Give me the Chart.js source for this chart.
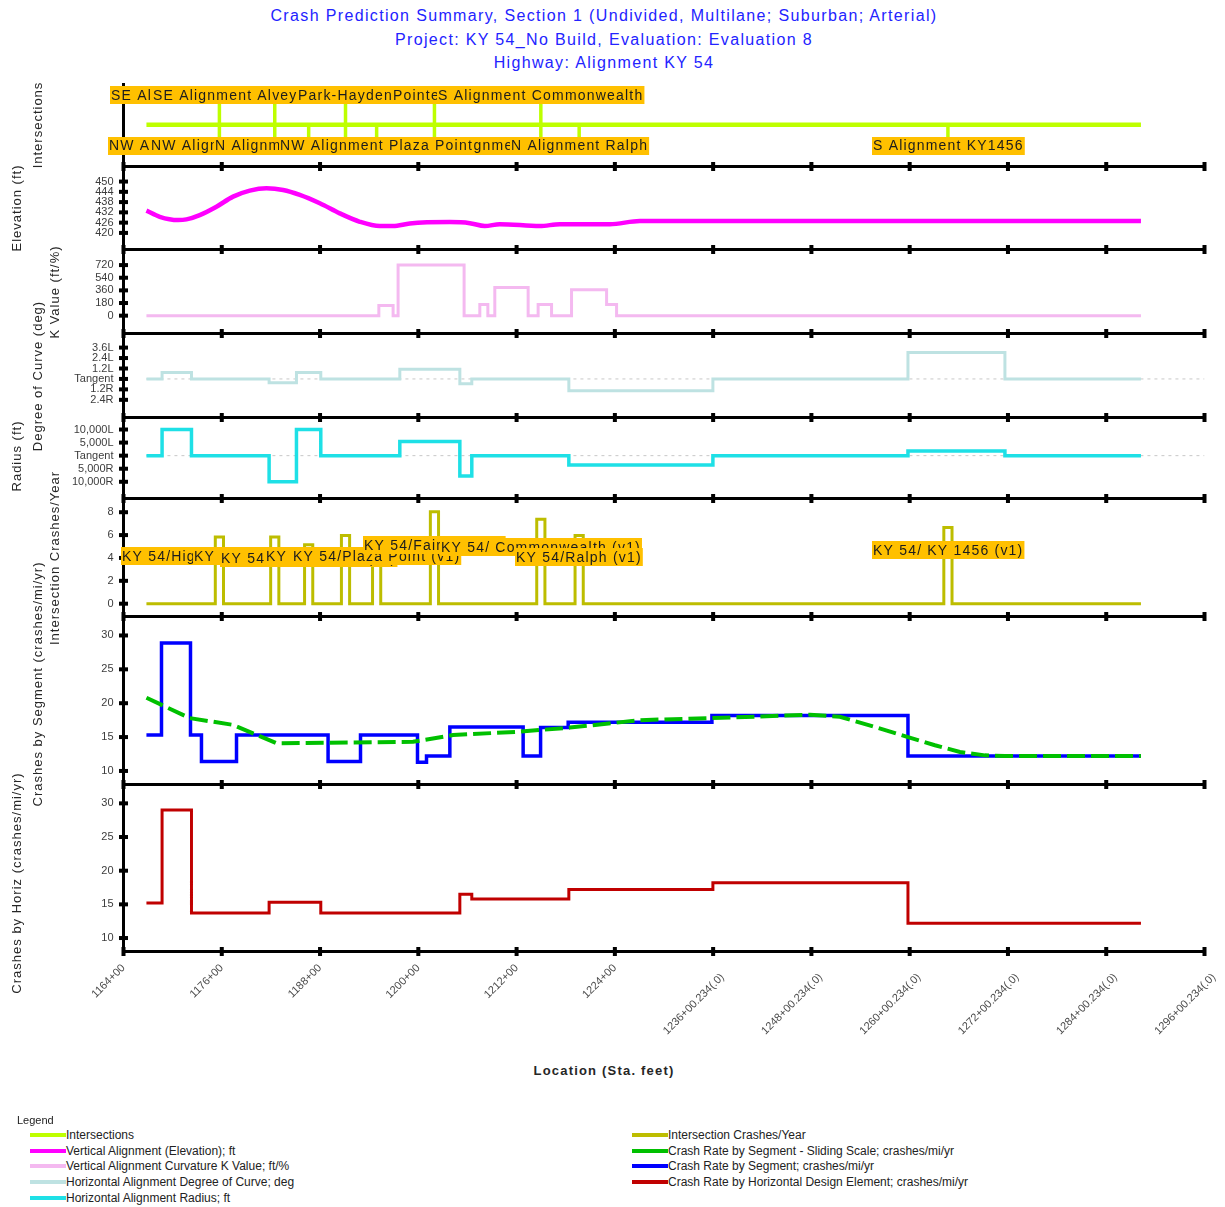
<!DOCTYPE html>
<html>
<head>
<meta charset="utf-8">
<title>Crash Prediction Summary</title>
<script src="https://cdn.jsdelivr.net/npm/chart.js@4.4.1/dist/chart.umd.min.js"></script>
<style>
  html,body{margin:0;padding:0;background:#fff;}
  #page{position:relative;width:1225px;height:1207px;overflow:hidden;font-family:"Liberation Sans",Arial,sans-serif;}
  .title{position:absolute;left:0;width:1208px;text-align:center;color:#2323ff;font-size:16px;letter-spacing:1.35px;line-height:20px;white-space:nowrap;}
  canvas{position:absolute;left:0;}
  .ytitle{position:absolute;white-space:nowrap;font-size:13px;letter-spacing:1px;color:#262626;line-height:14px;transform:translate(-50%,-50%) rotate(-90deg);}
  .xtitle{position:absolute;left:0;width:1208px;text-align:center;font-size:13px;font-weight:bold;letter-spacing:1.2px;color:#262626;top:1063px;}
  .lg{position:absolute;font-size:12px;color:#222;white-space:nowrap;line-height:12px;}
  .sw{position:absolute;height:4px;}
</style>
</head>
<body>
<div id="page">
  <div class="title" style="top:6px">Crash Prediction Summary, Section 1 (Undivided, Multilane; Suburban; Arterial)</div>
  <div class="title" style="top:30px">Project: KY 54_No Build, Evaluation: Evaluation 8</div>
  <div class="title" style="top:53px">Highway: Alignment KY 54</div>
  <div class="xtitle">Location (Sta. feet)</div>
</div>
<script>
// ---------------- DATA ----------------
const tickStations = [116400,117600,118800,120000,121200,122400,123600,124800,126000,127200,128400,129600];
const tickLabels = ["1164+00","1176+00","1188+00","1200+00","1212+00","1224+00",
  "1236+00.234(.0)","1248+00.234(.0)","1260+00.234(.0)","1272+00.234(.0)","1284+00.234(.0)","1296+00.234(.0)"];
const stationStart = 116680;
const stationEnd = 128824;

// Intersections
const intStations = [117571,118247,118661,119111,119491,120197,121496,121964,126467];
const intHasTopLeg = [true,true,false,true,false,true,true,false,false];
const intTopNames = ["SE Alignment Highland Ridge","SE Alignment Alvey Park Drive S","","Park-Hayden","","Pointe Way","S Alignment Commonwealth","",""];
const intBottomNames = ["NW Alignment Highland Ridge","NW Alignment Alvey Park Drive S","N Alignment Millbrook Rd","NW Park-Hayden",
  "NW Alignment Plaza Point","NW Alignment Fairway","N Alignment Commonwealth","N Alignment Ralph","S Alignment KY1456"];
const intCrashNames = ["KY 54/Highland Ridge (v1)","KY 54/Alvey Park (v1)","KY 54/Millbrook Rd (v1)","KY 54/Hayden St (v1)",
  "KY 54/Plaza Point (v1)","KY 54/Fairway (v1)","KY 54/ Commonwealth (v1)","KY 54/Ralph (v1)","KY 54/ KY 1456 (v1)"];
const intCrashes = [5.83,5.83,5.16,5.97,4.2,8.05,7.39,5.97,6.66];

// Vertical alignment - elevation (ft)
const elevStations = [116680,116843,117066,117169,117331,117535,117738,117942,118146,118349,118553,118797,119041,119286,119530,119692,119896,120385,120629,120812,120995,121484,121728,122339,122705,128824];
const elevValues   = [433.0,429.4,427.5,427.9,430.4,435.3,441.2,444.7,446.1,445.1,442.2,437.3,431.4,426.5,424.0,424.0,425.5,426.3,425.7,424.0,425.1,424.0,425.1,425.1,426.9,426.9];

// Vertical curvature K value (ft/%), step segments
const kStations = [116680,119518,119692,119753,120559,120751,120849,120934,121341,121463,121627,121871,122299,122421,128824];
const kValues   = [0,145,0,720,0,160,0,400,0,160,0,370,160,0];

// Horizontal alignment, step segments
const hStations = [116680,116871,117230,118178,118512,118809,119774,120507,120653,121838,123597,125979,127163,128824];
const degreeValues = [0,0.75,0,-0.45,0.75,0,1.1,-0.55,0,-1.35,0,3.05,0];
const radiusValues = [0,10000,0,-10000,10000,0,5400,-7800,0,-3600,0,1800,0];

// Crash rate by segment (step)
const segStations = [116680,116864,117218,117352,117780,118898,119294,119990,120100,120385,121280,121493,121830,123585,125979,128824];
const segCrashValues = [15.3,28.9,15.3,11.4,15.3,11.4,15.3,11.3,12.2,16.5,12.2,16.4,17.2,18.2,12.2];

// Crash rate by segment - sliding scale
const slideStations = [116680,117209,117738,118268,119936,120425,121240,121850,122705,123585,124782,125148,125576,125979,126308,126614,126919,127163,128824];
const slideValues   = [20.8,17.8,16.8,14.1,14.3,15.3,15.8,16.4,17.5,17.8,18.3,18.0,16.5,15.0,13.8,12.8,12.3,12.2,12.2];

// Crash rate by horizontal design element (step)
const horizCrashStations = [116680,116871,117230,118178,118809,120507,120653,121838,123597,125979,128824];
const horizCrashValues   = [15.2,29.0,13.7,15.3,13.7,16.5,15.8,17.2,18.2,12.2];

// Axis ticks
const elevTicks = [420,426,432,438,444,450];
const kTicks = [0,180,360,540,720];
const degreeTicks = [-2.4,-1.2,0,1.2,2.4,3.6];
const degreeTickLabels = ["2.4R","1.2R","Tangent","1.2L","2.4L","3.6L"];
const radiusTicks = [-10000,-5000,0,5000,10000];
const radiusTickLabels = ["10,000R","5,000R","Tangent","5,000L","10,000L"];
const crashYearTicks = [0,2,4,6,8];
const crashRateTicks = [10,15,20,25,30];

// ---------------- STYLE / LAYOUT ----------------
Chart.defaults.font.family = "'Liberation Sans', Arial, sans-serif";
const PAGE_W = 1225, PLOT_LEFT = 123.5, PLOT_RIGHT = 1204.5;
const X_MIN = 116400, X_MAX = 129600;
const COLORS = {
  intersections:'#BEFF00', elevation:'#FF00FF', kvalue:'#F4B9F0', degree:'#BEE2E2', radius:'#1EE0E6',
  crashYear:'#BDBD00', sliding:'#00C000', segment:'#0000FF', horiz:'#C00000', tangent:'#C8C8C8'
};
const TAG_BG = '#FFC000', TAG_TEXT = '#1c1c1c', TAG_FONT = "14px 'Liberation Sans', Arial, sans-serif";
const LINE_LEVEL = 0.5, TOP_TAG_LEVEL = 0.856, BOTTOM_TAG_LEVEL = 0.25;
const BOTTOM_TAG_ORDER = [5,6,0,1,2,3,4,7,8];
const crashTagLevels = [4.16,4.16,3.96,4.16,4.16,5.09,4.92,4.09,4.7];
const SPIKE_HALF = 50;

function stepPoints(st, vals){ const p=[]; vals.forEach((v,i)=>{ p.push({x:st[i],y:v}); p.push({x:st[i+1],y:v}); }); return p; }
function linePoints(st, vals){ return st.map((s,i)=>({x:s,y:vals[i]})); }
function spikePoints(st, vals){ const p=[{x:stationStart,y:0}]; st.forEach((s,i)=>{ p.push({x:s-SPIKE_HALF,y:0},{x:s-SPIKE_HALF,y:vals[i]},{x:s+SPIKE_HALF,y:vals[i]},{x:s+SPIKE_HALF,y:0}); }); p.push({x:stationEnd,y:0}); return p; }
function flatPoints(a,b,v){ return [{x:a,y:v},{x:b,y:v}]; }

function ds(data, color, width, extra){ return Object.assign({data, borderColor:color, borderWidth:width, pointRadius:0, fill:false, tension:0, borderJoinStyle:'miter', borderCapStyle:'butt'}, extra||{}); }

const framePlugin = {
  id:'frame',
  afterDraw(chart){
    const o = chart.options.plugins.frame || {};
    const {ctx, chartArea:a} = chart; const x = chart.scales.x, y = chart.scales.y;
    ctx.save(); ctx.fillStyle = '#000';
    ctx.fillRect(a.left-1.5, a.top, 3, a.bottom-a.top);
    ctx.fillRect(a.left-1.5, a.bottom-1.5, a.right-a.left+3, 3);
    tickStations.forEach(s=>{ const px = x.getPixelForValue(s); ctx.fillRect(px-2, a.bottom-4.5, 4, 9); });
    (o.yTicks||[]).forEach(v=>{ const py = y.getPixelForValue(v); ctx.fillRect(a.left-4.5, py-2, 9, 4); });
    ctx.restore();
  }
};

function drawTag(ctx, text, cx, cy){
  const w = ctx.measureText(text).width;
  const x0 = Math.round(cx - w/2);
  ctx.fillStyle = TAG_BG; ctx.fillRect(x0-1, Math.round(cy-9), w+2, 18);
  ctx.fillStyle = TAG_TEXT; ctx.fillText(text, x0, cy+1);
}

const intersectionPlugin = {
  id:'intTags',
  afterDraw(chart){
    const {ctx} = chart; const x = chart.scales.x, y = chart.scales.y;
    ctx.save();
    ctx.strokeStyle = COLORS.intersections; ctx.lineWidth = 3.5;
    intStations.forEach((s,i)=>{ const px = x.getPixelForValue(s);
      ctx.beginPath(); ctx.moveTo(px, y.getPixelForValue(intHasTopLeg[i]?TOP_TAG_LEVEL:LINE_LEVEL)); ctx.lineTo(px, y.getPixelForValue(BOTTOM_TAG_LEVEL)); ctx.stroke(); });
    ctx.font = TAG_FONT; ctx.letterSpacing = '1.2px'; ctx.textBaseline = 'middle'; ctx.textAlign = 'left';
    intStations.forEach((s,i)=>{ if(intTopNames[i]) drawTag(ctx, intTopNames[i], x.getPixelForValue(s), y.getPixelForValue(TOP_TAG_LEVEL)); });
    BOTTOM_TAG_ORDER.forEach(i=>{ drawTag(ctx, intBottomNames[i], x.getPixelForValue(intStations[i]), y.getPixelForValue(BOTTOM_TAG_LEVEL)); });
    ctx.restore();
  }
};

const crashTagPlugin = {
  id:'crashTags',
  afterDraw(chart){
    const {ctx} = chart; const x = chart.scales.x, y = chart.scales.y;
    ctx.save(); ctx.font = TAG_FONT; ctx.letterSpacing = '1.2px'; ctx.textBaseline = 'middle'; ctx.textAlign = 'left';
    intStations.forEach((s,i)=>{ drawTag(ctx, intCrashNames[i], x.getPixelForValue(s), y.getPixelForValue(crashTagLevels[i])); });
    ctx.restore();
  }
};

function yScale(min, max, ticks, labels, show){
  return {
    type:'linear', position:'left', min, max,
    grid:{display:false, drawTicks:false}, border:{display:false},
    afterBuildTicks: s => { s.ticks = ticks.map(v=>({value:v})); },
    ticks:{ display: show, autoSkip:false, padding:10, color:'#3c3c3c', font:{size:11},
      callback: v => { const i = ticks.indexOf(v); return i>=0 ? (labels? labels[i] : String(v)) : ''; } },
    afterFit: s => { s.width = PLOT_LEFT; s.paddingTop = 0; s.paddingBottom = 0; }
  };
}

function makePanel(edgeTop, edgeBottom, datasets, yOpts, yTicks, extraPlugins, isLast){
  const canvasTop = Math.floor(edgeTop) - 10;
  const padTop = edgeTop - canvasTop;
  const canvasBottom = isLast ? 1100 : Math.ceil(edgeBottom) + 10;
  const padBottom = isLast ? 0 : canvasBottom - edgeBottom;
  const xAxisH = isLast ? canvasBottom - edgeBottom : 0;
  const c = document.createElement('canvas');
  const h = canvasBottom - canvasTop;
  c.width = PAGE_W; c.height = h; c.style.top = canvasTop+'px'; c.style.width = PAGE_W+'px'; c.style.height = h+'px';
  document.getElementById('page').appendChild(c);
  return new Chart(c, {
    type:'line',
    data:{datasets},
    options:{
      responsive:false, animation:false, devicePixelRatio:1, events:[],
      layout:{padding:{top:padTop, bottom:padBottom, left:0, right:PAGE_W-PLOT_RIGHT}},
      plugins:{legend:{display:false}, tooltip:{enabled:false}, frame:{yTicks}},
      elements:{point:{radius:0}},
      scales:{
        x:{ type:'linear', min:X_MIN, max:X_MAX, display:!!isLast,
            grid:{display:false, drawTicks:false}, border:{display:false},
            afterBuildTicks: s => { s.ticks = tickStations.map(v=>({value:v})); },
            ticks:{ autoSkip:false, minRotation:45, maxRotation:45, padding:10, color:'#4a4a4a', font:{size:11},
              callback: v => { const i = tickStations.indexOf(v); if(i<0) return ''; const t = tickLabels[i]; return t.length > 8 ? ['', t] : t; } },
            afterFit: s => { if(isLast) s.height = xAxisH; s.paddingLeft = 0; s.paddingRight = 0; } },
        y: yOpts
      }
    },
    plugins:[framePlugin].concat(extraPlugins||[])
  });
}

// 1 Intersections
makePanel(83, 166.5,
  [ds(flatPoints(stationStart, stationEnd, LINE_LEVEL), COLORS.intersections, 4.5)],
  yScale(0, 1, [LINE_LEVEL], null, false), [], [intersectionPlugin]);
// 2 Elevation
makePanel(166.5, 249.5,
  [ds(linePoints(elevStations, elevValues), COLORS.elevation, 4.5, {borderJoinStyle:'round', cubicInterpolationMode:'monotone'})],
  yScale(410.3, 458.8, elevTicks, null, true), elevTicks);
// 3 K value
makePanel(249.5, 333.5,
  [ds(stepPoints(kStations, kValues), COLORS.kvalue, 3)],
  yScale(-254, 942, kTicks, null, true), kTicks);
// 4 Degree of curve
makePanel(333.5, 417.5,
  [ds(stepPoints(hStations, degreeValues), COLORS.degree, 3),
   ds(flatPoints(stationStart, X_MAX, 0), COLORS.tangent, 1, {borderDash:[3,4]})],
  yScale(-4.43, 5.22, degreeTicks, degreeTickLabels, true), degreeTicks);
// 5 Radius
makePanel(417.5, 498.5,
  [ds(stepPoints(hStations, radiusValues), COLORS.radius, 3.5),
   ds(flatPoints(stationStart, X_MAX, 0), COLORS.tangent, 1, {borderDash:[3,4]})],
  yScale(-16400, 14600, radiusTicks, radiusTickLabels, true), radiusTicks);
// 6 Intersection crashes/year
makePanel(498.5, 616.5,
  [ds(spikePoints(intStations, intCrashes), COLORS.crashYear, 3)],
  yScale(-1.12, 9.2, crashYearTicks, null, true), crashYearTicks, [crashTagPlugin]);
// 7 Crashes by segment
makePanel(616.5, 784.5,
  [ds(linePoints(slideStations, slideValues), COLORS.sliding, 4, {borderDash:[18,6]}),
   ds(stepPoints(segStations, segCrashValues), COLORS.segment, 3.5)],
  yScale(8, 32.8, crashRateTicks, null, true), crashRateTicks);
// 8 Crashes by horizontal design element
makePanel(784.5, 951.5,
  [ds(stepPoints(horizCrashStations, horizCrashValues), COLORS.horiz, 3)],
  yScale(8, 32.8, crashRateTicks, null, true), crashRateTicks, [], true);

// ---------------- Axis titles & legend (HTML text) ----------------
const yTitles = [
  ["Intersections",38,124.5],["Elevation (ft)",17,208],["K Value (ft/%)",55,291.5],["Degree of Curve (deg)",38,375.5],
  ["Radius (ft)",17,456],["Intersection Crashes/Year",55,557.5],["Crashes by Segment (crashes/mi/yr)",38,684],["Crashes by Horiz (crashes/mi/yr)",17,883]
];
const page = document.getElementById('page');
yTitles.forEach(([t,x,y])=>{ const d=document.createElement('div'); d.className='ytitle'; d.textContent=t; d.style.left=x+'px'; d.style.top=y+'px'; page.appendChild(d); });

const legendItems = [
  ["Intersections",COLORS.intersections,30,1135],["Vertical Alignment (Elevation); ft",COLORS.elevation,30,1151],
  ["Vertical Alignment Curvature K Value; ft/%",COLORS.kvalue,30,1166],["Horizontal Alignment Degree of Curve; deg",COLORS.degree,30,1182],
  ["Horizontal Alignment Radius; ft",COLORS.radius,30,1198],
  ["Intersection Crashes/Year",COLORS.crashYear,632,1135],["Crash Rate by Segment - Sliding Scale; crashes/mi/yr",COLORS.sliding,632,1151],
  ["Crash Rate by Segment; crashes/mi/yr",COLORS.segment,632,1166],["Crash Rate by Horizontal Design Element; crashes/mi/yr",COLORS.horiz,632,1182]
];
const lgHead=document.createElement('div'); lgHead.className='lg'; lgHead.style.fontSize='11px'; lgHead.textContent='Legend'; lgHead.style.left='17px'; lgHead.style.top='1114px'; page.appendChild(lgHead);
legendItems.forEach(([t,c,x,y])=>{
  const s=document.createElement('div'); s.className='sw'; s.style.background=c; s.style.left=x+'px'; s.style.top=(y-2)+'px'; s.style.width='36px'; page.appendChild(s);
  const d=document.createElement('div'); d.className='lg'; d.textContent=t; d.style.left=(x+36)+'px'; d.style.top=(y-6)+'px'; page.appendChild(d);
});
</script>
</body>
</html>
